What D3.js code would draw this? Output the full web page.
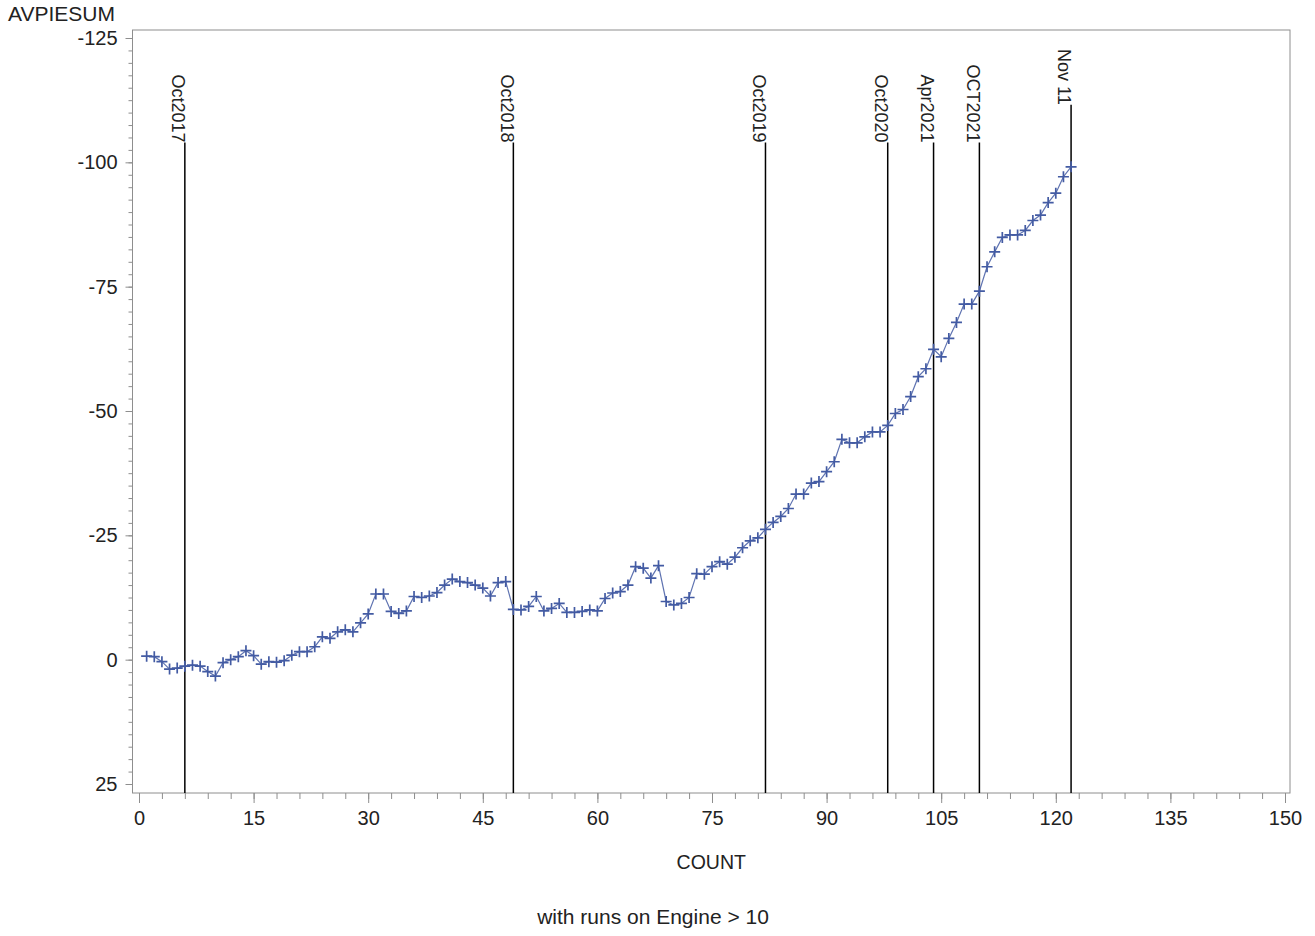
<!DOCTYPE html>
<html>
<head>
<meta charset="utf-8">
<script src="https://cdn.jsdelivr.net/npm/d3@7"></script>
<style>
  body { margin: 0; background: #fff; }
  text { font-family: "Liberation Sans", Arial, sans-serif; fill: #222; }
</style>
</head>
<body>
<div id="chart"></div>
<script>
const width = 1315;
const height = 936;

// AVPIESUM for COUNT = 1 .. 122
const avpiesum = [
  -0.7, -0.6, 0.4, 1.9, 1.7, 1.3, 1.1, 1.3, 2.4, 3.3,
  0.6, 0.0, -0.6, -1.8, -0.8, 0.9, 0.4, 0.5, 0.2, -0.9,
  -1.6, -1.6, -2.6, -4.6, -4.3, -5.6, -6.0, -5.6, -7.4, -9.2,
  -13.2, -13.2, -9.7, -9.3, -9.8, -12.7, -12.5, -12.8, -13.5, -15.0,
  -16.2, -15.7, -15.5, -15.0, -14.4, -12.8, -15.5, -15.7, -10.1, -10.0,
  -10.7, -12.7, -9.8, -10.3, -11.3, -9.5, -9.5, -9.7, -10.0, -9.8,
  -12.3, -13.4, -13.7, -15.0, -18.7, -18.4, -16.4, -18.9, -11.7, -11.0,
  -11.3, -12.5, -17.3, -17.2, -18.7, -19.7, -19.2, -20.6, -22.5, -23.9,
  -24.5, -26.2, -27.6, -28.8, -30.4, -33.3, -33.3, -35.5, -35.8, -37.8,
  -39.8, -44.3, -43.6, -43.6, -44.8, -45.8, -45.8, -47.1, -49.5, -50.3,
  -52.9, -56.9, -58.5, -62.4, -60.9, -64.6, -67.8, -71.5, -71.5, -74.1,
  -79.0, -82.0, -84.9, -85.4, -85.4, -86.3, -88.3, -89.4, -91.9, -93.8,
  -97.1, -99.1
];

// reference lines
const refCounts = [6, 49, 82, 98, 104, 110, 122];
const refLabels = ["Oct2017", "Oct2018", "Oct2019", "Oct2020", "Apr2021", "OCT2021", "Nov 11"];
const refTops = [-104, -104, -104, -104, -104, -104, -111.6];

const xTicks = [0, 15, 30, 45, 60, 75, 90, 105, 120, 135, 150];
const yTicks = [-125, -100, -75, -50, -25, 0, 25];

const data = avpiesum.map((v, i) => ({count: i + 1, value: v}));

const frame = {left: 132.5, right: 1290, top: 30, bottom: 793};

const x = d3.scaleLinear().domain([0, 150]).range([139, 1285]);
const y = d3.scaleLinear().domain([-125, 25]).range([38, 784]);

const svg = d3.select("#chart")
  .append("svg")
    .attr("width", width)
    .attr("height", height);

const axisColor = "#8e8e8e";
const font = "'Liberation Sans', Arial, sans-serif";

// frame
svg.append("rect")
  .attr("x", frame.left)
  .attr("y", frame.top)
  .attr("width", frame.right - frame.left)
  .attr("height", frame.bottom - frame.top)
  .attr("fill", "none")
  .attr("stroke", axisColor)
  .attr("stroke-width", 1);

// y axis minor ticks
const yMinor = d3.range(-125, 25.1, 2.5);
svg.append("g")
  .attr("transform", `translate(${frame.left},0)`)
  .call(d3.axisLeft(y).tickValues(yMinor).tickSize(4).tickFormat(""))
  .call(g => g.select(".domain").remove())
  .call(g => g.selectAll("line").attr("stroke", axisColor));

// y axis
svg.append("g")
  .attr("transform", `translate(${frame.left},0)`)
  .call(d3.axisLeft(y).tickValues(yTicks).tickSize(7).tickPadding(8).tickFormat(d => String(d)))
  .call(g => g.select(".domain").remove())
  .call(g => g.selectAll("line").attr("stroke", axisColor))
  .call(g => g.selectAll("text")
    .style("font-size", "20px")
    .style("font-family", font)
    .attr("fill", "#222"));

// x axis minor ticks
const xMinor = d3.range(0, 150.1, 3);
svg.append("g")
  .attr("transform", `translate(0,${frame.bottom})`)
  .call(d3.axisBottom(x).tickValues(xMinor).tickSize(6).tickFormat(""))
  .call(g => g.select(".domain").remove())
  .call(g => g.selectAll("line").attr("stroke", axisColor));

// x axis
svg.append("g")
  .attr("transform", `translate(0,${frame.bottom})`)
  .call(d3.axisBottom(x).tickValues(xTicks).tickSize(10).tickPadding(8).tickFormat(d => String(d)))
  .call(g => g.select(".domain").remove())
  .call(g => g.selectAll("line").attr("stroke", axisColor))
  .call(g => g.selectAll("text")
    .style("font-size", "20px")
    .style("font-family", font)
    .attr("fill", "#222"));

// axis titles
svg.append("text")
  .text("AVPIESUM")
  .attr("x", 8)
  .attr("y", 21)
  .style("font-size", "21px");

svg.append("text")
  .text("COUNT")
  .attr("x", (frame.left + frame.right) / 2)
  .attr("y", 869)
  .attr("text-anchor", "middle")
  .style("font-size", "19.5px");

svg.append("text")
  .text("with runs on Engine > 10")
  .attr("x", 653)
  .attr("y", 924)
  .attr("text-anchor", "middle")
  .style("font-size", "21px");

// reference lines
const refs = refCounts.map((c, i) => ({count: c, label: refLabels[i], top: refTops[i]}));

svg.append("g")
  .selectAll("line")
  .data(refs)
  .join("line")
    .attr("x1", d => x(d.count))
    .attr("x2", d => x(d.count))
    .attr("y1", d => y(d.top))
    .attr("y2", frame.bottom)
    .attr("stroke", "#000")
    .attr("stroke-width", 1.5);

svg.append("g")
  .selectAll("text")
  .data(refs)
  .join("text")
    .text(d => d.label)
    .attr("transform", d => `translate(${x(d.count)},${y(d.top)}) rotate(90)`)
    .attr("text-anchor", "end")
    .attr("dy", "0.7em")
    .style("font-size", "18px");

// data line
const line = d3.line()
  .x(d => x(d.count))
  .y(d => y(d.value));

const blue = "#435ba3";

svg.append("path")
  .datum(data)
  .attr("d", line)
  .attr("fill", "none")
  .attr("stroke", blue)
  .attr("stroke-opacity", 0.85)
  .attr("stroke-width", 1.2);

// plus markers
svg.append("g")
  .selectAll("path")
  .data(data)
  .join("path")
    .attr("d", "M-5.5,0H5.5M0,-5.5V5.5")
    .attr("transform", d => `translate(${x(d.count)},${y(d.value)})`)
    .attr("fill", "none")
    .attr("stroke", blue)
    .attr("stroke-width", 1.7);
</script>
</body>
</html>
